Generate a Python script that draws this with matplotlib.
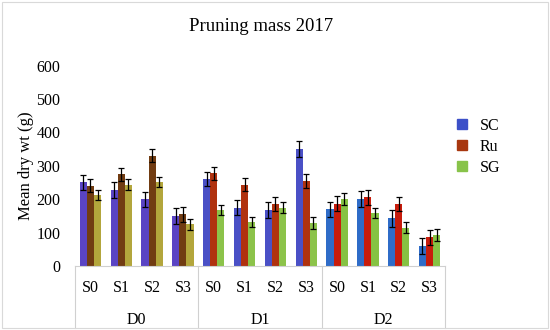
import numpy as np
import matplotlib
matplotlib.use("Agg")
import matplotlib.pyplot as plt
from matplotlib.patches import Rectangle

# data
doses = ["D0", "D1", "D2"]
subs = ["S0", "S1", "S2", "S3"]
series = ["SC", "Ru", "SG"]
sc_vals = [250, 226, 200, 151, 260, 175, 168, 350, 170, 200, 143, 60]
ru_vals = [240, 274, 330, 155, 277, 243, 185, 254, 187, 206, 185, 86]
sg_vals = [213, 243, 250, 125, 168, 133, 175, 128, 200, 158, 115, 93]
sc_err = [22, 24, 22, 24, 22, 22, 23, 23, 23, 23, 25, 23]
ru_err = [20, 20, 20, 22, 20, 20, 20, 21, 21, 22, 20, 22]
sg_err = [15, 17, 15, 16, 16, 15, 17, 18, 17, 15, 16, 17]
y_ticks = [0, 100, 200, 300, 400, 500, 600]

# per dose-group tones (the reference shades differ a bit between groups)
group_colors = [
    ["#5a44c4", "#713c12", "#b3a63c"],
    ["#4a50c6", "#b0320f", "#8cc34a"],
    ["#2f6cc8", "#c81c0c", "#86c243"],
]
legend_colors = ["#3c50c8", "#a8370f", "#88c34a"]

plt.rcParams["font.family"] = ["Liberation Serif", "DejaVu Serif"]

fig = plt.figure(figsize=(5.5, 3.3), dpi=100)
ax = fig.add_axes([75 / 550, 1 - 266 / 330, 370 / 550, 200.5 / 330])

n = len(sc_vals)
x = np.arange(n)
w = 0.23
vals = [sc_vals, ru_vals, sg_vals]
errs = [sc_err, ru_err, sg_err]
for k in range(3):
    cols = [group_colors[i // 4][k] for i in range(n)]
    ax.bar(x + (k - 1) * w, vals[k], w, color=cols, zorder=2)
    ax.errorbar(x + (k - 1) * w, vals[k], yerr=errs[k], fmt="none",
                ecolor="black", elinewidth=0.9, capsize=2.5, capthick=0.9, zorder=3)

ax.set_xlim(-0.5, n - 0.5)
ax.set_ylim(0, 600)
ax.set_yticks(y_ticks)
ax.tick_params(axis="y", length=0, labelsize=11.5, pad=10.5)
ax.set_xticks([])
for s in ["top", "right", "left"]:
    ax.spines[s].set_visible(False)
ax.spines["bottom"].set_color("#d0d0d0")
ax.spines["bottom"].set_linewidth(0.8)
ax.set_ylabel("Mean dry wt (g)", fontsize=12)
ax.yaxis.set_label_coords(-0.11, 0.5)

# category box under the axis
tr = ax.get_xaxis_transform()
for i in range(n):
    ax.text(i, -0.11, subs[i % 4], transform=tr, ha="center", va="center",
            fontsize=11.5)
for g, d in enumerate(doses):
    ax.text(g * 4 + 1.5, -0.27, d, transform=tr, ha="center", va="center",
            fontsize=11.5)
for b in [-0.5, 3.5, 7.5, 11.5]:
    ax.plot([b, b], [0, -0.31], transform=tr, color="#d0d0d0", lw=0.8,
            clip_on=False)

fig.text(0.474, 0.92, "Pruning mass 2017", ha="center", va="center",
         fontsize=13.5)

# legend
handles = [Rectangle((0, 0), 1, 1, color=c) for c in legend_colors]
fig.legend(handles, series, loc="center left", bbox_to_anchor=(0.805, 0.555),
           frameon=False, fontsize=11.5, handlelength=0.6, handleheight=0.6,
           handletextpad=0.8, labelspacing=0.3)

# light frame around the picture
fig.patches.append(Rectangle((0.004, 0.006), 0.992, 0.988, transform=fig.transFigure,
                             fill=False, edgecolor="#d9d9d9", lw=0.8))

fig.savefig("out.png", dpi=100)
